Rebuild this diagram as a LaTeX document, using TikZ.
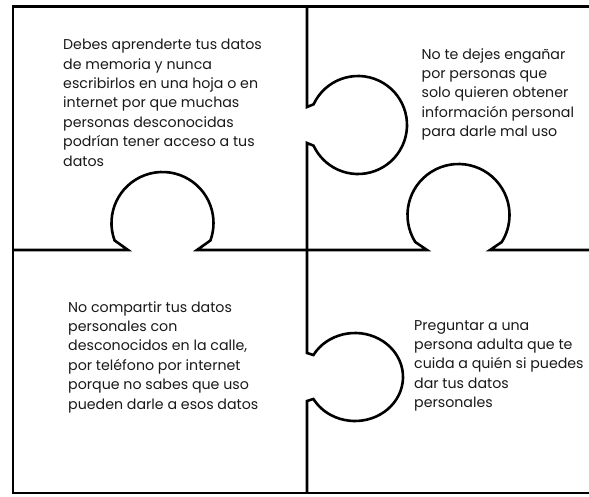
\documentclass[tikz,border=0pt]{standalone}
\usepackage{fontspec}
\setmainfont{Poppins}
\usetikzlibrary{calc}
\begin{document}
\begin{tikzpicture}[x=1pt,y=1pt,
  piece/.style={line width=2.6pt, black, line join=miter},
  tip/.style={anchor=north west, inner sep=0pt, align=left, text=black!90,
    font=\fontsize{14.2}{19.4}\selectfont}]
\useasboundingbox (0,0) rectangle (589,-496);
% outer frame
\draw[piece] (589,-6.5) -- (13,-6.5) -- (13,-493) -- (589,-493);
% middle horizontal with two knobs
\draw[piece] (13,-250) -- (128,-250)
  -- ([shift={(200:51)}]162.5,-223) arc[start angle=200, end angle=-20, radius=51]
  -- (197,-250) -- (427,-250)
  -- ([shift={(212:51)}]458.5,-215) arc[start angle=212, end angle=-32, radius=51]
  -- (490,-250) -- (589,-250);
% vertical divider with two knobs
\draw[piece] (307,-6.5) -- (307,-107)
  -- ([shift={(155:49)}]358,-125) arc[start angle=155, end angle=-155, radius=49]
  -- (307,-143) -- (307,-353)
  -- ([shift={(150:48 and 44)}]355,-377) arc[start angle=150, end angle=-150, x radius=48, y radius=44]
  -- (307,-401) -- (307,-493);
% texts
\node[tip] (t1) at (63,-39) {Debes aprenderte tus datos\\de memoria y nunca\\escribirlos en una hoja o en\\internet por que muchas\\personas desconocidas\\podrían tener acceso a tus\\datos};
\node[tip] (t2) at (421.5,-48) {No te dejes engañar\\por personas que\\solo quieren obtener\\información personal\\para darle mal uso};
\node[tip] (t3) at (68,-301) {No compartir tus datos\\personales con\\desconocidos en la calle,\\por teléfono por internet\\porque no sabes que uso\\pueden darle a esos datos};
\node[tip] (t4) at (414,-320) {Preguntar a una\\persona adulta que te\\cuida a quién si puedes\\dar tus datos\\personales};
\end{tikzpicture}
\end{document}
